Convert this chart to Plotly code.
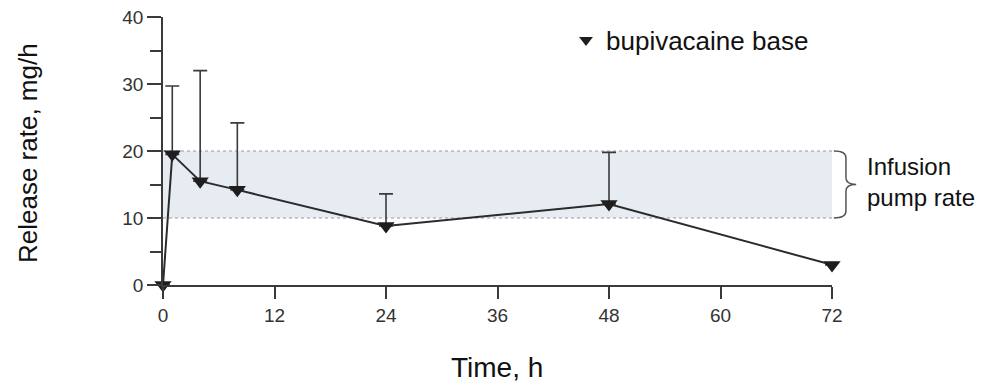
import plotly.graph_objects as go

# ---- data ----
time_h = [0, 1, 4, 8, 24, 48, 72]
release_rate = [0, 19.5, 15.5, 14.2, 8.8, 12.1, 3.0]
error_plus = [None, 10.2, 16.5, 10.0, 4.8, 7.7, None]
x_ticks = [0, 12, 24, 36, 48, 60, 72]
y_ticks = [0, 10, 20, 30, 40]
pump_low, pump_high = 10, 20
series_name = "bupivacaine base"

X_RANGE = [0, 72]
Y_RANGE = [0, 40]
FONT = "Liberation Sans, Arial, sans-serif"

fig = go.Figure()

# connecting line
fig.add_trace(go.Scatter(
    x=time_h, y=release_rate, mode="lines",
    line=dict(color="#2b2b2b", width=2),
    showlegend=False, hoverinfo="skip", cliponaxis=False,
))

# markers with upper error bars
fig.add_trace(go.Scatter(
    x=time_h, y=release_rate, mode="markers", name=series_name,
    marker=dict(symbol="triangle-down", size=15, color="#1e1e1e"),
    error_y=dict(type="data", symmetric=False, array=error_plus,
                 arrayminus=[0] * len(time_h), color="#3a3a3a",
                 thickness=1.6, width=7),
    cliponaxis=False,
))

# shaded infusion pump band
fig.add_shape(type="rect", xref="x", yref="y", x0=0, x1=72.2,
              y0=pump_low, y1=pump_high, fillcolor="#e7ecf3",
              line=dict(width=0), layer="below")
for yv in (pump_low, pump_high):
    fig.add_shape(type="line", xref="x", yref="y", x0=0, x1=72.2,
                  y0=yv, y1=yv, line=dict(color="#9a9a9a", width=1, dash="dot"),
                  layer="below")

# brace "}" (in axis-domain units so it is not clipped)
def dx(v):
    return (v - X_RANGE[0]) / (X_RANGE[1] - X_RANGE[0])

def dy(v):
    return (v - Y_RANGE[0]) / (Y_RANGE[1] - Y_RANGE[0])

xa, xb, xc = dx(72.2), dx(73.5), dx(74.6)
mid = (pump_low + pump_high) / 2
yt, yb, ym = dy(pump_high), dy(pump_low), dy(mid)
k = dy(1.0)
brace = (f"M {xa},{yt} Q {xb},{yt} {xb},{yt-k} "
         f"L {xb},{ym+k} Q {xb},{ym} {xc},{ym} "
         f"Q {xb},{ym} {xb},{ym-k} L {xb},{yb+k} "
         f"Q {xb},{yb} {xa},{yb}")
fig.add_shape(type="path", xref="x domain", yref="y domain", path=brace,
              line=dict(color="#555555", width=1.5))

fig.add_annotation(text="Infusion<br>pump rate", xref="paper", yref="paper",
                   x=1.049, y=(285 - 182) / 268, xanchor="left", yanchor="middle",
                   align="left", showarrow=False,
                   font=dict(family=FONT, size=24, color="#111"))

# axis titles
fig.add_annotation(text="Release rate, mg/h", xref="paper", yref="paper",
                   x=(28 - 163) / 669, y=(285 - 153) / 268, textangle=-90,
                   xanchor="center", yanchor="middle", showarrow=False,
                   font=dict(family=FONT, size=26, color="#111"))
fig.add_annotation(text="Time, h", xref="paper", yref="paper",
                   x=(497 - 163) / 669, y=(285 - 367) / 268,
                   xanchor="center", yanchor="middle", showarrow=False,
                   font=dict(family=FONT, size=28, color="#111"))

fig.update_xaxes(range=X_RANGE, tickvals=x_ticks, ticks="outside", ticklen=12,
                 tickwidth=1.5, tickcolor="#3a3a3a", showline=True, linecolor="#3a3a3a",
                 linewidth=1.6, showgrid=False, zeroline=False,
                 tickfont=dict(family=FONT, size=19, color="#333"))
fig.update_yaxes(range=Y_RANGE, tickvals=y_ticks, ticks="outside", ticklen=14,
                 tickwidth=1.5, tickcolor="#3a3a3a", showline=True, linecolor="#3a3a3a",
                 linewidth=1.6, showgrid=False, zeroline=False,
                 minor=dict(dtick=5, tick0=0, ticks="outside", ticklen=11,
                            tickwidth=1.5, tickcolor="#3a3a3a", showgrid=False),
                 tickfont=dict(family=FONT, size=19, color="#333"))

fig.update_layout(
    width=1002, height=387,
    margin=dict(l=163, r=170, t=17, b=102, autoexpand=False),
    paper_bgcolor="white", plot_bgcolor="white",
    font=dict(family=FONT, color="#111"),
    showlegend=True,
    legend=dict(x=(566 - 163) / 669, y=(285 - 40) / 268, xanchor="left",
                yanchor="middle", bgcolor="rgba(0,0,0,0)", itemsizing="constant",
                font=dict(family=FONT, size=26, color="#111")),
)

fig.write_html("out.html")
